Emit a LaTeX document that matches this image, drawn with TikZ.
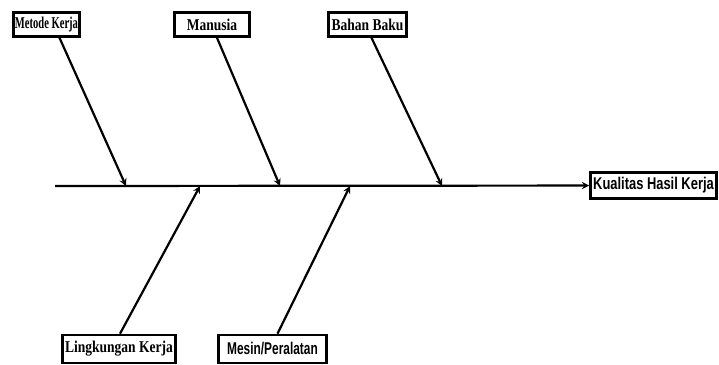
\documentclass[tikz,border=0pt]{standalone}
\usepackage{fontspec}
\setmainfont{Liberation Serif}
\setsansfont{Liberation Sans}
\newfontfamily\metodefont[FakeStretch=0.64]{Liberation Serif}
\newfontfamily\narrowserif[FakeStretch=0.82]{Liberation Serif}
\newfontfamily\narrowsans[FakeStretch=0.76]{Liberation Sans}
\newfontfamily\tightsans[FakeStretch=0.7]{Liberation Sans}
\begin{document}
\begin{tikzpicture}[
            x=1pt, y=-1pt,
            >=stealth,
            block/.style={draw, rectangle, line width=2.6pt, fill=white,
                            inner sep=1pt, minimum height=24pt,
                            font=\narrowserif\bfseries\fontsize{16.5}{17}\selectfont},
            sansblock/.style={block, font=\narrowsans\bfseries\fontsize{17}{18}\selectfont},
            bone/.style={draw, line width=2.2pt, ->}
        ]

            \useasboundingbox (0,0) rectangle (719,364);

            \node[block, font=\metodefont\bfseries\fontsize{16.5}{17}\selectfont, minimum width=66pt] (metode) at (46.5,24.5) {Metode Kerja};
            \node[block, minimum width=75pt] (manusia) at (212,24.5) {Manusia};
            \node[block, minimum width=78pt] (bahan) at (367.5,24.5) {Bahan Baku};
            \node[sansblock, minimum width=126pt, minimum height=26pt] (kualitas) at (653.5,185.5) {Kualitas Hasil Kerja};
            \node[block, minimum width=113pt, minimum height=28pt] (lingkungan) at (119,349) {Lingkungan Kerja};
            \node[sansblock, font=\tightsans\bfseries\fontsize{17}{18}\selectfont, minimum width=108pt, minimum height=28pt] (mesin) at (272.5,349) {Mesin/Peralatan};

            \coordinate (start) at (55,186);
            \coordinate (m1) at (126,186);
            \coordinate (m2) at (280,186);
            \coordinate (m3) at (442,186);
            \coordinate (m4) at (200,186);
            \coordinate (m5) at (350,186);

            \draw[bone] (start) -- (kualitas);
            \draw[bone] (metode.south) ++(13,0) -- (m1);
            \draw[bone] (manusia.south) ++(5,0) -- (m2);
            \draw[bone] (bahan.south) ++(4,0) -- (m3);
            \draw[bone] (lingkungan.north) ++(1,0) -- (m4);
            \draw[bone] (mesin.north) ++(5,0) -- (m5);

        \end{tikzpicture}
\end{document}
